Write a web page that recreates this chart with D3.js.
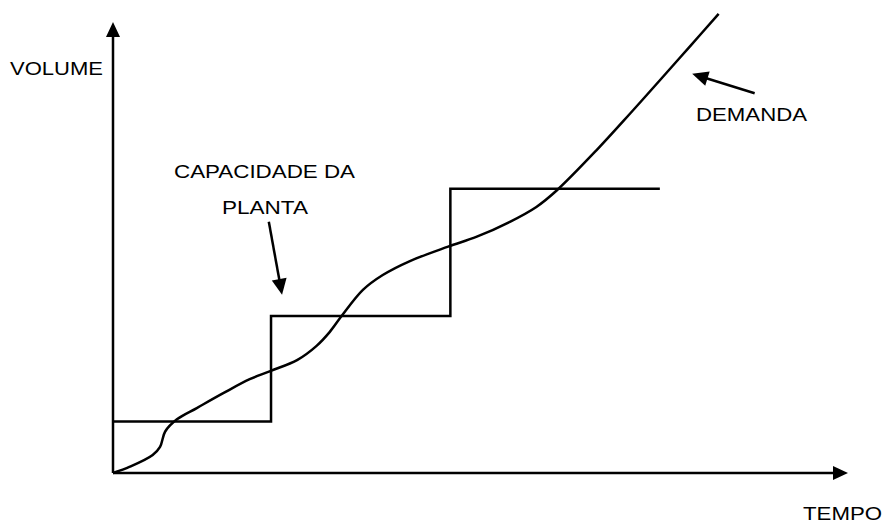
<!DOCTYPE html>
<html>
<head>
<meta charset="utf-8">
<script src="https://cdn.jsdelivr.net/npm/d3@7"></script>
<style>
  body { margin: 0; background: #fff; }
  text { font-family: "Liberation Sans", Arial, sans-serif; font-size: 18px; fill: #000; }
</style>
</head>
<body>
<div id="chart"></div>
<script>
// demand curve (tempo, volume)
const demandX = [0, 2.3, 5.4, 6.4, 7.1, 8.7, 11.4, 15.0, 18.6, 21.4, 25.1, 27.7, 29.5, 31.1, 34.0, 36.7, 40.4, 45.6, 49.5, 54.0, 57.6, 60.4, 65.8, 70.3, 74.8, 78.5, 82.4];
const demandY = [0, 1.4, 4.0, 5.8, 9.2, 11.9, 14.4, 17.7, 20.8, 22.6, 25.1, 28.2, 31.3, 34.8, 40.6, 43.9, 47.0, 50.2, 52.4, 55.7, 59.0, 62.7, 71.6, 79.6, 87.8, 94.6, 101.8];

// plant capacity steps
const capX = [0, 21.5, 45.9, 74.4];
const capY = [11.4, 34.8, 63.0, 63.0];

const labels = ["VOLUME", "TEMPO", "CAPACIDADE DA", "PLANTA", "DEMANDA"];

const w = 885, h = 525;
const x = d3.scaleLinear().domain([0, 100]).range([113, 848]);
const y = d3.scaleLinear().domain([0, 100]).range([473, 22]);

const svg = d3.select("#chart").append("svg")
  .attr("width", w)
  .attr("height", h);

// line with a filled triangle head at the end
function arrow(x1, y1, x2, y2, len, half, sw) {
  const dx = x2 - x1, dy = y2 - y1;
  const d = Math.sqrt(dx * dx + dy * dy);
  const ux = dx / d, uy = dy / d;
  const bx = x2 - ux * len, by = y2 - uy * len;
  svg.append("line")
    .attr("x1", x1).attr("y1", y1)
    .attr("x2", bx + ux * 2).attr("y2", by + uy * 2)
    .attr("stroke", "#000").attr("stroke-width", sw);
  svg.append("polygon")
    .attr("points", [
      [x2, y2],
      [bx - uy * half, by + ux * half],
      [bx + uy * half, by - ux * half]
    ].map(p => p.join(",")).join(" "))
    .attr("fill", "#000");
}

// axes
arrow(x(0), y(0), x(0), y(100), 15, 7, 2.5);
arrow(x(0), y(0), x(100), y(0), 15, 7, 2.5);

// capacity step line
const capData = capX.map((v, i) => [v, capY[i]]);
svg.append("path")
  .datum(capData)
  .attr("fill", "none")
  .attr("stroke", "#000")
  .attr("stroke-width", 2.5)
  .attr("d", d3.line()
    .x(d => x(d[0]))
    .y(d => y(d[1]))
    .curve(d3.curveStepAfter));

// demand curve
const demData = demandX.map((v, i) => [v, demandY[i]]);
svg.append("path")
  .datum(demData)
  .attr("fill", "none")
  .attr("stroke", "#000")
  .attr("stroke-width", 2.5)
  .attr("d", d3.line()
    .x(d => x(d[0]))
    .y(d => y(d[1]))
    .curve(d3.curveCatmullRom.alpha(0.5)));

// annotation arrows
arrow(x(21.2), y(55.7), x(23.0), y(39.5), 16, 7.5, 2.5);
arrow(x(87.3), y(84.2), x(78.8), y(88.5), 16, 7.5, 2.5);

// labels (text is stretched wide in the original)
const lbl = [
  [labels[0], 10, 75, 93],
  [labels[1], 803, 520, 79],
  [labels[2], 174, 178, 181],
  [labels[3], 222, 214, 86],
  [labels[4], 696, 121, 111]
];
svg.selectAll("text.lbl")
  .data(lbl)
  .enter()
  .append("text")
  .attr("class", "lbl")
  .attr("x", d => d[1])
  .attr("y", d => d[2])
  .attr("textLength", d => d[3])
  .attr("lengthAdjust", "spacingAndGlyphs")
  .text(d => d[0]);
</script>
</body>
</html>
